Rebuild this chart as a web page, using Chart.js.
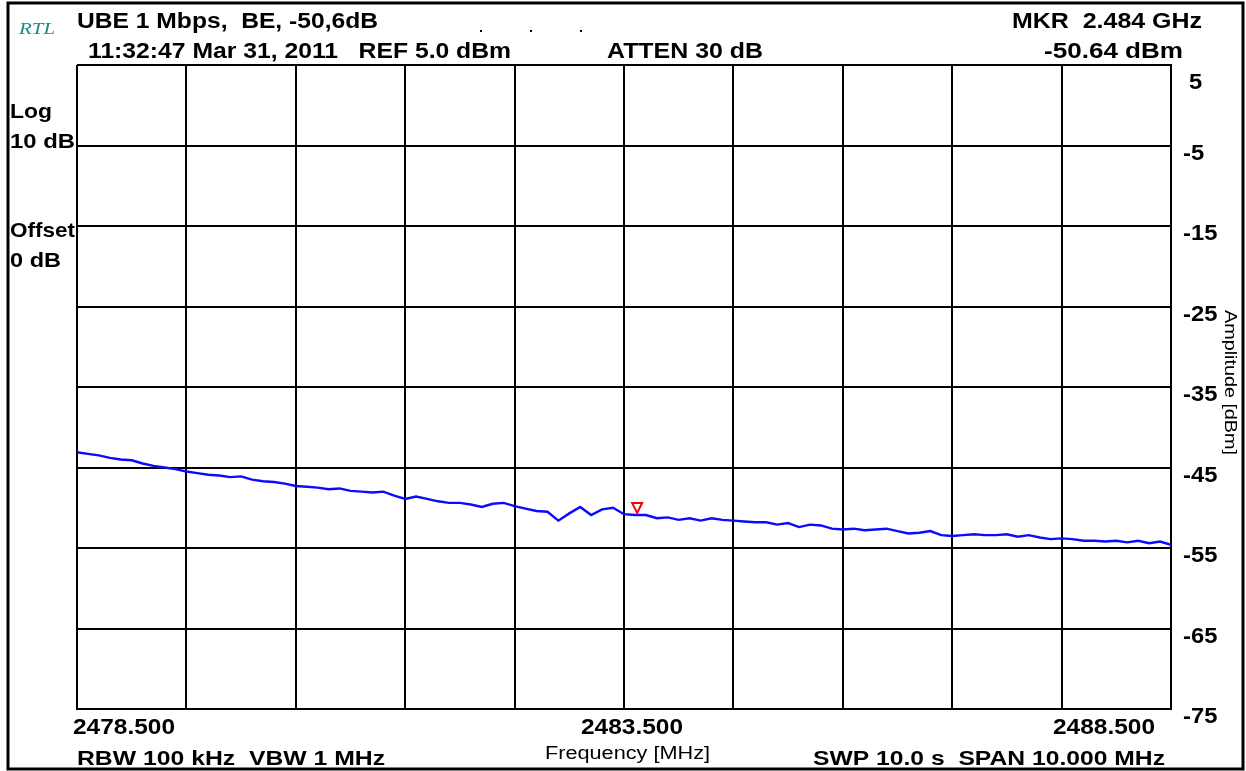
<!DOCTYPE html>
<html>
<head>
<meta charset="utf-8">
<title>Spectrum trace</title>
<script src="https://cdn.jsdelivr.net/npm/chart.js@4/dist/chart.umd.min.js"></script>
<style>
  html, body { margin: 0; padding: 0; background: #ffffff; }
  #wrap { width: 1246px; height: 771px; position: relative; }
</style>
</head>
<body>
<div id="wrap"><canvas id="spectrum"></canvas></div>
<script>
// sweep: 2478.5 .. 2488.5 MHz, 0.1 MHz per point
const startFreq = 2478.5;
const freqStep = 0.1;
const traceLevels = [
  -43.1, -43.3, -43.5, -43.8, -44.0, -44.1, -44.5, -44.8, -45.0, -45.2,
  -45.5, -45.7, -45.9, -46.0, -46.2, -46.1, -46.5, -46.7, -46.8, -47.0,
  -47.3, -47.4, -47.5, -47.7, -47.6, -47.9, -48.0, -48.1, -48.0, -48.5,
  -48.9, -48.6, -48.9, -49.2, -49.4, -49.4, -49.6, -49.9, -49.5, -49.4,
  -49.8, -50.1, -50.4, -50.5, -51.6, -50.7, -49.9, -50.9, -50.2, -50.0,
  -50.8, -50.9, -50.9, -51.3, -51.2, -51.5, -51.3, -51.6, -51.3, -51.5,
  -51.6, -51.7, -51.8, -51.8, -52.1, -51.9, -52.4, -52.1, -52.2, -52.6,
  -52.7, -52.6, -52.8, -52.7, -52.6, -52.9, -53.2, -53.1, -52.9, -53.4,
  -53.5, -53.4, -53.3, -53.4, -53.4, -53.3, -53.6, -53.4, -53.7, -53.9,
  -53.8, -53.9, -54.1, -54.1, -54.2, -54.1, -54.3, -54.1, -54.4, -54.2,
  -54.6
];

const freqGrid = [2478.5, 2479.5, 2480.5, 2481.5, 2482.5, 2483.5, 2484.5, 2485.5, 2486.5, 2487.5, 2488.5];
const levelGrid = [5, -5, -15, -25, -35, -45, -55, -65, -75];
const freqLabels = ['2478.500', '2483.500', '2488.500'];

const markerFreq = 2483.62;
const markerLevel = -50.64;

const tracePoints = traceLevels.map((v, i) => ({ x: startFreq + i * freqStep, y: v }));

const boldFont = 'bold 22px "Liberation Sans", Arial, sans-serif';

// draws text starting at left, stretched to the given width
function wideText(ctx, text, left, baseline, width) {
  const w = ctx.measureText(text).width;
  ctx.save();
  ctx.textAlign = 'left';
  ctx.translate(left, baseline);
  ctx.scale(width / w, 1);
  ctx.fillText(text, 0, 0);
  ctx.restore();
}

// header, side notes, tick labels, marker and frame
const analyzerText = {
  id: 'analyzerText',
  afterDraw(chart) {
    const ctx = chart.ctx;
    const xs = chart.scales.x;
    const ys = chart.scales.y;
    const area = chart.chartArea;
    ctx.save();

    // outer frame
    ctx.strokeStyle = '#000';
    ctx.lineWidth = 3;
    ctx.strokeRect(8, 3, 1235, 766);

    ctx.textBaseline = 'alphabetic';
    ctx.font = 'italic 17px "Liberation Serif", "DejaVu Serif", serif';
    ctx.fillStyle = '#1a8a8a';
    wideText(ctx, 'RTL', 19, 34, 36);

    ctx.fillStyle = '#000';
    ctx.font = boldFont;
    wideText(ctx, 'UBE 1 Mbps,  BE, -50,6dB', 77, 28, 301);
    wideText(ctx, '11:32:47 Mar 31, 2011   REF 5.0 dBm', 88, 58, 423);
    wideText(ctx, 'ATTEN 30 dB', 607, 58, 156);
    wideText(ctx, 'MKR  2.484 GHz', 1012, 28, 190);
    wideText(ctx, '-50.64 dBm', 1044, 58, 139);

    // little dots in the header line
    [480, 530, 580].forEach(x => ctx.fillRect(x, 30, 2, 2));

    ctx.font = 'bold 21px "Liberation Sans", Arial, sans-serif';
    wideText(ctx, 'Log', 10, 118, 42);
    wideText(ctx, '10 dB', 10, 148, 65);
    wideText(ctx, 'Offset', 10, 237, 65);
    wideText(ctx, '0 dB', 10, 267, 51);

    // amplitude labels on the right edge
    ctx.textBaseline = 'middle';
    ctx.font = boldFont;
    levelGrid.forEach(v => {
      const y = Math.max(ys.getPixelForValue(v) + 8, area.top + 18);
      const label = String(v);
      const w = ctx.measureText(label).width * 1.08;
      wideText(ctx, label, v === 5 ? 1189 : 1183, y, w);
    });

    // frequency labels
    ctx.textBaseline = 'alphabetic';
    const fl = [startFreq, 2483.5, 2488.5];
    wideText(ctx, freqLabels[0], xs.getPixelForValue(fl[0]) - 4, 734, 102);
    wideText(ctx, freqLabels[1], xs.getPixelForValue(fl[1]) - 43, 734, 102);
    wideText(ctx, freqLabels[2], xs.getPixelForValue(fl[2]) - 118, 734, 102);

    ctx.font = 'bold 20px "Liberation Sans", Arial, sans-serif';
    wideText(ctx, 'RBW 100 kHz  VBW 1 MHz', 77, 765, 308);
    wideText(ctx, 'SWP 10.0 s  SPAN 10.000 MHz', 813, 765, 352);

    ctx.font = '18px "Liberation Sans", Arial, sans-serif';
    wideText(ctx, 'Frequency [MHz]', 545, 759, 165);

    // axis title, rotated
    ctx.save();
    ctx.translate(1225, 310);
    ctx.rotate(Math.PI / 2);
    ctx.font = '16px "Liberation Sans", Arial, sans-serif';
    wideText(ctx, 'Amplitude [dBm]', 0, 0, 145);
    ctx.restore();

    // marker: open red triangle pointing down onto the trace
    const mx = xs.getPixelForValue(markerFreq);
    const my = ys.getPixelForValue(markerLevel);
    ctx.strokeStyle = '#ff0000';
    ctx.lineWidth = 2;
    ctx.beginPath();
    ctx.moveTo(mx, my);
    ctx.lineTo(mx - 5, my - 10);
    ctx.lineTo(mx + 5, my - 10);
    ctx.closePath();
    ctx.stroke();

    ctx.restore();
  }
};

new Chart(document.getElementById('spectrum'), {
  type: 'line',
  data: {
    datasets: [{
      data: tracePoints,
      borderColor: '#0a0aff',
      borderWidth: 2.4,
      pointRadius: 0,
      tension: 0,
      fill: false
    }]
  },
  options: {
    responsive: true,
    maintainAspectRatio: false,
    animation: false,
    events: [],
    layout: { padding: { left: 77, right: 75, top: 65, bottom: 62 } },
    plugins: {
      legend: { display: false },
      tooltip: { enabled: false }
    },
    scales: {
      x: {
        type: 'linear',
        min: freqGrid[0],
        max: freqGrid[freqGrid.length - 1],
        afterBuildTicks: scale => { scale.ticks = freqGrid.map(v => ({ value: v })); },
        ticks: { display: false },
        grid: { color: '#000', lineWidth: 2, drawTicks: false },
        border: { display: true, color: '#000', width: 2 }
      },
      y: {
        position: 'right',
        min: levelGrid[levelGrid.length - 1],
        max: levelGrid[0],
        afterBuildTicks: scale => { scale.ticks = levelGrid.map(v => ({ value: v })); },
        ticks: { display: false },
        grid: { color: '#000', lineWidth: 2, drawTicks: false },
        border: { display: true, color: '#000', width: 2 }
      }
    }
  },
  plugins: [analyzerText]
});
</script>
</body>
</html>
